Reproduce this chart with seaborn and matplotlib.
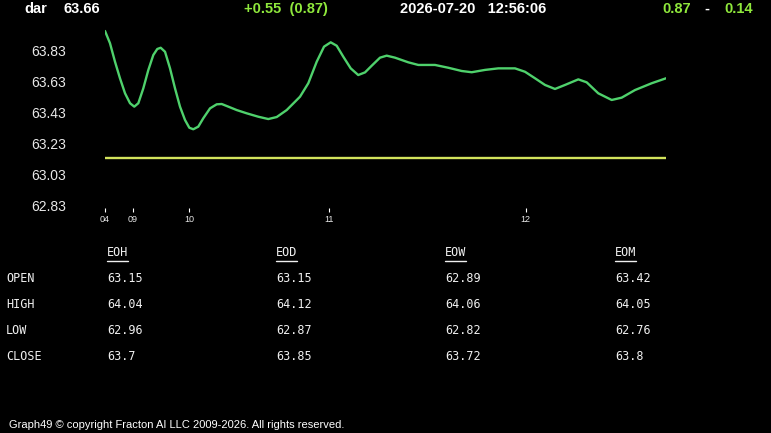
import numpy as np
import pandas as pd
import seaborn as sns
import matplotlib.pyplot as plt
from matplotlib.lines import Line2D

# %% Data (x = sample index 0..100)
t = [0, 0.89, 1.78, 2.67, 3.57, 4.46, 5.22, 5.94, 6.83, 7.72, 8.61, 9.32,
     9.93, 10.70, 11.59, 12.48, 13.37, 14.26, 15.03, 15.74, 16.63, 17.52,
     18.72, 19.91, 20.80, 21.98, 23.48, 25.26, 27.33, 29.11, 30.61, 32.39,
     34.76, 36.24, 37.74, 39.04, 40.23, 41.30, 42.48, 43.80, 45.14, 46.35,
     47.54, 49.02, 50.21, 51.69, 54.06, 55.85, 58.82, 61.19, 63.58, 65.37,
     67.74, 70.11, 73.08, 74.87, 76.65, 78.43, 80.21, 82.00, 84.37, 85.86,
     87.93, 90.32, 92.10, 94.47, 97.45, 100]
price = [63.959, 63.880, 63.761, 63.654, 63.557, 63.493, 63.471, 63.493,
         63.589, 63.707, 63.804, 63.843, 63.851, 63.825, 63.718, 63.589,
         63.471, 63.385, 63.335, 63.325, 63.342, 63.396, 63.460, 63.486,
         63.488, 63.471, 63.449, 63.428, 63.406, 63.391, 63.404, 63.449,
         63.535, 63.622, 63.761, 63.858, 63.886, 63.864, 63.793, 63.718,
         63.675, 63.692, 63.735, 63.787, 63.800, 63.787, 63.757, 63.740,
         63.740, 63.722, 63.701, 63.693, 63.708, 63.718, 63.718, 63.696,
         63.654, 63.611, 63.585, 63.611, 63.647, 63.628, 63.557, 63.514,
         63.529, 63.578, 63.622, 63.654]
open_level = 63.14

yticks = [62.83, 63.03, 63.23, 63.43, 63.63, 63.83]
xtick_pos = [0, 5, 15, 40, 75]
xtick_labels = ["04", "09", "10", "11", "12"]

col_names = ["EOH", "EOD", "EOW", "EOM"]
row_names = ["OPEN", "HIGH", "LOW", "CLOSE"]
table_vals = [["63.15", "63.15", "62.89", "63.42"],
              ["64.04", "64.12", "64.06", "64.05"],
              ["62.96", "62.87", "62.82", "62.76"],
              ["63.7", "63.85", "63.72", "63.8"]]

symbol = "dar"
last = "63.66"
change = "+0.55  (0.87)"
stamp = "2026-07-20   12:56:06"
range_a, range_b = "0.87", "0.14"

# %% Style
sns.set_style("dark", {"axes.facecolor": "black", "figure.facecolor": "black"})
plt.rcParams['font.family'] = ['Liberation Sans', 'DejaVu Sans']

W, H = 771, 433
fig = plt.figure(figsize=(W / 100, H / 100), dpi=100)
fig.patch.set_facecolor("black")

def px(x, y):
    return x / W, 1 - y / H

# axes: x 105..666, y 25..208
ax = fig.add_axes([105 / W, 1 - 208 / H, (666 - 105) / W, (208 - 25) / H])
ax.set_facecolor("black")

df = pd.DataFrame({"t": t, "price": price})
sns.lineplot(data=df, x="t", y="price", ax=ax, color="#4fd16c", linewidth=1.7,
             solid_joinstyle="round", solid_capstyle="round")
flat = pd.DataFrame({"t": [t[0], t[-1]], "level": [open_level, open_level]})
sns.lineplot(data=flat, x="t", y="level", ax=ax, color="#d2e35c", linewidth=1.7)

ax.set_xlim(0, 100)
ax.set_ylim(63.83 - (208 - 51) / 155, 63.83 + (51 - 25) / 155)
ax.set_yticks(yticks)
ax.set_yticklabels([f"{v:.2f}" for v in yticks])
ax.set_xticks(xtick_pos)
ax.set_xticklabels(xtick_labels)
ax.tick_params(axis="y", length=0, pad=28, labelsize=10, labelcolor="#e8e8e8")
ax.tick_params(axis="x", length=3, width=0.8, color="white", direction="out",
               pad=2, labelsize=6.5, labelcolor="#e8e8e8", bottom=True)
ax.set_xlabel("")
ax.set_ylabel("")
ax.grid(False)
for s in ax.spines.values():
    s.set_visible(False)

# %% Header
green = "#8fe83c"
hdr = dict(fontsize=10.5, fontweight="bold", va="center")
fig.text(*px(24, 9), symbol, color="white", **hdr)
fig.text(*px(63, 9), last, color="white", **hdr)
fig.text(*px(244, 9), change, color=green, **hdr)
fig.text(*px(400, 9), stamp, color="white", **hdr)
fig.text(*px(662, 9), range_a, color=green, **hdr)
fig.text(*px(704, 9), "-", color="white", **hdr)
fig.text(*px(724, 9), range_b, color=green, **hdr)

# %% Table
mono = dict(family="DejaVu Sans Mono", fontsize=8.5, color="#f0f0f0", va="center")
col_x = [107, 276, 445, 615]
row_y = [278, 305, 331, 357]
heads = []
for cx, name in zip(col_x, col_names):
    heads.append(fig.text(*px(cx, 252), name, **mono))
for ry, name, vals in zip(row_y, row_names, table_vals):
    fig.text(*px(6, ry), name, **mono)
    for cx, v in zip(col_x, vals):
        fig.text(*px(cx, ry), v, **mono)

fig.canvas.draw()
r = fig.canvas.get_renderer()
for h in heads:
    bb = h.get_window_extent(r)
    yline = 1 - 261 / H
    fig.add_artist(Line2D([bb.x0 / W, bb.x1 / W], [yline, yline],
                          color="#f0f0f0", linewidth=1.0))

# %% Footer
fig.text(*px(9, 425), "Graph49 \u00a9 copyright Fracton AI LLC 2009-2026. All rights reserved.",
         color="white", fontsize=8, va="center")

fig.savefig("out.png", dpi=100, facecolor="black")
